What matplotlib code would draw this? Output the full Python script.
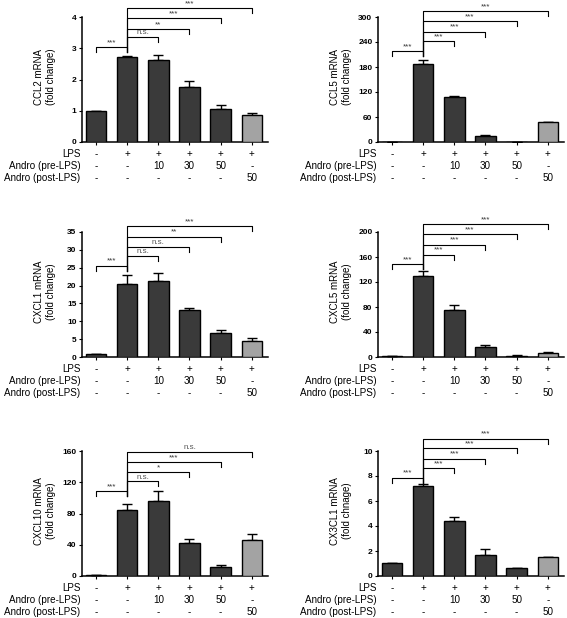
import matplotlib

matplotlib.use("Agg")

import matplotlib.pyplot as plt
import numpy as np

plt.rcParams["font.family"] = ["Liberation Sans", "DejaVu Sans"]

# six groups, same treatment layout for every panel
lps_row = ["-", "+", "+", "+", "+", "+"]
pre_row = ["-", "-", "10", "30", "50", "-"]
post_row = ["-", "-", "-", "-", "-", "50"]
row_names = ["LPS", "Andro (pre-LPS)", "Andro (post-LPS)"]

pairs = [(0, 1), (1, 2), (1, 3), (1, 4), (1, 5)]

ccl2 = [1.0, 2.71, 2.64, 1.76, 1.05, 0.86]
ccl2_err = [0.0, 0.05, 0.13, 0.19, 0.12, 0.06]
ccl2_sig = ["***", "n.s.", "**", "***", "***"]
ccl2_lvl = [3.03, 3.35, 3.61, 3.96, 4.29]

ccl5 = [1.0, 187, 108, 14.4, 1.0, 47]
ccl5_err = [0.0, 10, 3, 1.6, 0.0, 1.6]
ccl5_sig = ["***", "***", "***", "***", "***"]
ccl5_lvl = [219, 242, 265, 290, 314]

cxcl1 = [0.95, 20.4, 21.2, 13.3, 6.8, 4.5]
cxcl1_err = [0.0, 2.7, 2.3, 0.3, 0.9, 0.7]
cxcl1_sig = ["***", "n.s.", "n.s.", "**", "***"]
cxcl1_lvl = [25.6, 28.2, 30.8, 33.7, 36.6]

cxcl5 = [1.0, 129, 76, 16, 2.0, 6.0]
cxcl5_err = [0.0, 8, 8, 4, 1.0, 1.5]
cxcl5_sig = ["***", "***", "***", "***", "***"]
cxcl5_lvl = [149, 164, 180, 197, 213]

cxcl10 = [1.0, 84.5, 95.6, 42, 11, 46]
cxcl10_err = [0.0, 8, 13.5, 6, 3, 8]
cxcl10_sig = ["***", "n.s.", "*", "***", "n.s."]
cxcl10_lvl = [109, 121, 133, 146, 159]

cx3cl1 = [1.04, 7.17, 4.4, 1.7, 0.61, 1.49]
cx3cl1_err = [0.0, 0.22, 0.35, 0.43, 0.03, 0.03]
cx3cl1_sig = ["***", "***", "***", "***", "***"]
cx3cl1_lvl = [7.87, 8.64, 9.39, 10.24, 11.0]

panels = [
    ("CCL2 mRNA\n(fold change)", ccl2, ccl2_err, ccl2_sig, ccl2_lvl, np.arange(0, 5, 1)),
    ("CCL5 mRNA\n(fold change)", ccl5, ccl5_err, ccl5_sig, ccl5_lvl, np.arange(0, 301, 60)),
    ("CXCL1 mRNA\n(fold change)", cxcl1, cxcl1_err, cxcl1_sig, cxcl1_lvl, np.arange(0, 36, 5)),
    ("CXCL5 mRNA\n(fold change)", cxcl5, cxcl5_err, cxcl5_sig, cxcl5_lvl, np.arange(0, 201, 40)),
    ("CXCL10 mRNA\n(fold change)", cxcl10, cxcl10_err, cxcl10_sig, cxcl10_lvl, np.arange(0, 161, 40)),
    ("CX3CL1 mRNA\n(fold chnage)", cx3cl1, cx3cl1_err, cx3cl1_sig, cx3cl1_lvl, np.arange(0, 11, 2)),
]

W, H = 567, 618
fig = plt.figure(figsize=(W / 100, H / 100), dpi=100)

col_left = [82, 378]
col_width = 186
row_bottom = [142, 357, 576]
ax_height = 125

colors = ["#3a3a3a"] * 5 + ["#a3a3a3"]
x = np.arange(6)


def draw_panel(ax, ylabel, vals, errs, sig, levels, ticks):
    ymax = ticks[-1]
    ax.bar(x, vals, width=0.66, color=colors, edgecolor="black", linewidth=1.0, zorder=3)
    ax.errorbar(x, vals, yerr=[np.zeros(6), errs], fmt="none", ecolor="black",
                elinewidth=1.0, capsize=3.5, capthick=1.0, zorder=2)
    ax.set_xlim(-0.45, 5.52)
    ax.set_ylim(0, ymax)
    ax.set_yticks(ticks)
    ax.set_yticklabels([str(t) for t in ticks], fontsize=6, fontweight="bold")
    ax.set_xticks(x)
    ax.set_xticklabels([])
    ax.tick_params(axis="both", length=2.5, width=0.8, pad=1.5, direction="out")
    for s in ["top", "right"]:
        ax.spines[s].set_visible(False)
    for s in ["left", "bottom"]:
        ax.spines[s].set_linewidth(1.1)

    ax.text(-0.2, 0.52, ylabel, transform=ax.transAxes, rotation=90,
            ha="center", va="center", fontsize=7, linespacing=1.2)

    # treatment table under the bars
    for k, row in enumerate([lps_row, pre_row, post_row]):
        off = -8.6 * (k + 1)
        ax.annotate(row_names[k], xy=(0, 0), xycoords="axes fraction",
                    xytext=(-1, off), textcoords="offset points",
                    ha="right", va="center", fontsize=7.1)
        for i, t in enumerate(row):
            ax.annotate(t, xy=(i, 0), xycoords=("data", "axes fraction"),
                        xytext=(0, off), textcoords="offset points",
                        ha="center", va="center", fontsize=7.1)

    # significance brackets
    leg = 0.04 * ymax
    low = levels[0] - leg
    for (a, b), lab, y in zip(pairs, sig, levels):
        ya = y - leg if a == 0 else low
        ax.plot([a, a, b, b], [ya, y, y, y - leg], color="black", lw=0.8,
                clip_on=False, zorder=4)
        col = "#555555" if lab == "n.s." else "#333333"
        ax.annotate(lab, xy=((a + b) / 2, y), xycoords="data", xytext=(0, 0.6),
                    textcoords="offset points", ha="center", va="bottom",
                    fontsize=5.8, color=col, annotation_clip=False)


for n, (ylabel, vals, errs, sig, levels, ticks) in enumerate(panels):
    r, c = divmod(n, 2)
    rect = [col_left[c] / W, (H - row_bottom[r]) / H, col_width / W, ax_height / H]
    ax = fig.add_axes(rect)
    draw_panel(ax, ylabel, vals, errs, sig, levels, ticks)

fig.savefig("out.png", dpi=100)
